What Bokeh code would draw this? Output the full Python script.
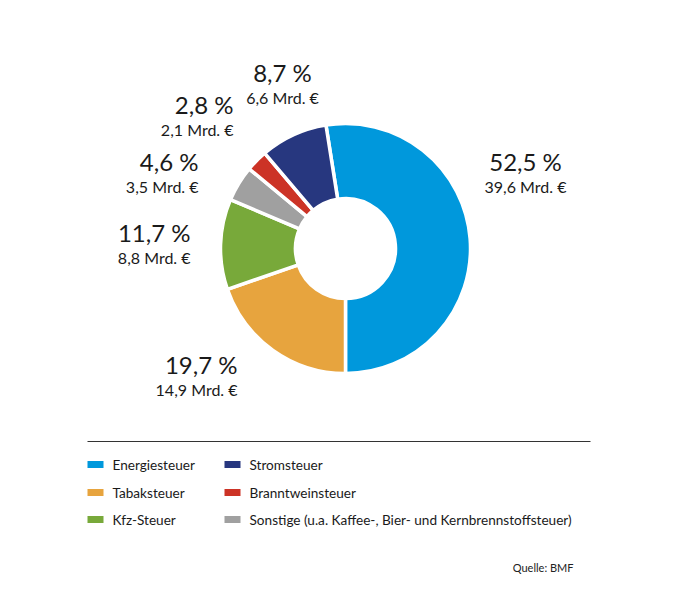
import numpy as np
from bokeh.plotting import figure
from bokeh.models import Range1d, ColumnDataSource
from bokeh.core.properties import value
from bokeh.embed import file_html
from bokeh.resources import INLINE

# data
categories = ["Energiesteuer", "Tabaksteuer", "Kfz-Steuer", "Sonstige (u.a. Kaffee-, Bier- und Kernbrennstoffsteuer)",
              "Branntweinsteuer", "Stromsteuer"]
shares = [52.5, 19.7, 11.7, 4.6, 2.8, 8.7]
billions = [39.6, 14.9, 8.8, 3.5, 2.1, 6.6]
colors = ["#0098dc", "#e7a43e", "#78a93a", "#a0a0a0", "#cc3326", "#27377f"]
# legend order (two columns)
legend_col1 = ["Energiesteuer", "Tabaksteuer", "Kfz-Steuer"]
legend_col2 = ["Stromsteuer", "Branntweinsteuer", "Sonstige (u.a. Kaffee-, Bier- und Kernbrennstoffsteuer)"]
source_note = "Quelle: BMF"

# layout (reference pixel coords, y downwards)
W, H = 662, 584
CX, CY = 345, 248
R_OUT, R_IN = 125, 50
label_pos = [(525, 161, "center"), (237, 364, "right"), (190, 232, "right"),
             (198, 161, "right"), (233, 104, "right"), (282, 72, "center")]


def fy(y):
    return 600 - y


def de(v, nd=1):
    return f"{v:.{nd}f}".replace(".", ",")


p = figure(width=W, height=H, output_backend="svg", toolbar_location=None,
           x_range=Range1d(0, W), y_range=Range1d(600 - H, 600),
           min_border=0, outline_line_color=None)
p.axis.visible = False
p.grid.visible = False

# angles: clockwise from top, first slice ends at bottom
tot = sum(shares)
sweep = [s / tot * 360 for s in shares]
start_cw = 180 - sweep[0]
cw_start = start_cw + np.concatenate([[0], np.cumsum(sweep)[:-1]])
cw_end = cw_start + np.array(sweep)
src = ColumnDataSource(dict(
    start=np.radians(90 - cw_start), end=np.radians(90 - cw_end), color=colors))
p.annular_wedge(x=CX, y=fy(CY), inner_radius=R_IN, outer_radius=R_OUT,
                start_angle="start", end_angle="end", direction="clock",
                fill_color="color", line_color="white", line_width=3.5, source=src)

# slice labels
for (lx, ly, al), s, b in zip(label_pos, shares, billions):
    p.text(x=[lx], y=[fy(ly)], text=[f"{de(s)} %"], text_font=value("Lato"),
           text_font_size="24px", text_color="#1a1a1a", text_align=al, text_baseline="middle")
    p.text(x=[lx], y=[fy(ly + 25)], text=[f"{de(b)} Mrd. €"], text_font=value("Lato"),
           text_font_size="16px", text_color="#1a1a1a", text_align=al, text_baseline="middle")

# rule above legend
p.segment(x0=[87], y0=[fy(441)], x1=[590], y1=[fy(441)], line_color="#333333", line_width=1.2)

# legend
color_of = dict(zip(categories, colors))
rows_y = [464, 492, 519]
for col_x, names in ((87, legend_col1), (224, legend_col2)):
    for ry, name in zip(rows_y, names):
        p.rect(x=[col_x + 8], y=[fy(ry)], width=16, height=7, fill_color=color_of[name], line_color=None)
        p.text(x=[col_x + 25], y=[fy(ry)], text=[name], text_font=value("Lato"), text_font_size="13.6px",
               text_color="#1a1a1a", text_align="left", text_baseline="middle")

p.text(x=[573], y=[fy(567)], text=[source_note], text_font=value("Lato"), text_font_size="11px",
       text_color="#222222", text_align="right", text_baseline="middle")

open("out.html", "w").write(file_html(p, INLINE))
